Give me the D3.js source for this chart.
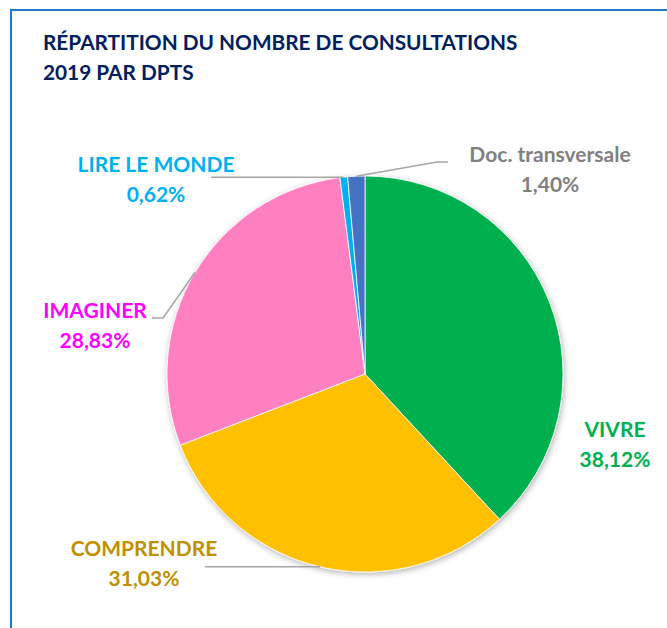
<!DOCTYPE html>
<html>
<head>
<meta charset="utf-8">
<script src="https://cdn.jsdelivr.net/npm/d3@7"></script>
<style>
  body { margin: 0; background: #fff; }
  svg { display: block; font-family: Lato, "Open Sans", sans-serif; font-weight: bold; }
</style>
</head>
<body>
<div id="chart"></div>
<script>
// data, clockwise from 12 o'clock
var categories = ["VIVRE", "COMPRENDRE", "IMAGINER", "LIRE LE MONDE", "Doc. transversale"];
var values = [38.12, 31.03, 28.83, 0.62, 1.40];
var sliceColors = ["#00B050", "#FFC000", "#FF80C0", "#00B0F0", "#4472C4"];
var labelColors = ["#00B050", "#BF9000", "#FF00FF", "#00B0F0", "#808080"];

// label placement (manual, like in the original)
var labelPos = [
  {x: 615, y: 437, line: null},
  {x: 144, y: 556, line: [205]},
  {x: 95, y: 318, line: [152, 163]},
  {x: 156, y: 172, line: [211]},
  {x: 550, y: 162, line: [448, 437]}
];

var W = 667, H = 628,
    cx = 365, cy = 374, r = 198;

var svg = d3.select("#chart").append("svg")
    .attr("width", W)
    .attr("height", H);

var defs = svg.append("defs");
var f = defs.append("filter").attr("id", "shadow")
    .attr("x", "-10%").attr("y", "-10%").attr("width", "120%").attr("height", "120%");
f.append("feDropShadow")
    .attr("dx", 1).attr("dy", 2).attr("stdDeviation", 3)
    .attr("flood-color", "#000").attr("flood-opacity", 0.3);

// frame
svg.append("path")
    .attr("d", "M11,628 L11,10 L667,10")
    .attr("fill", "none")
    .attr("stroke", "#1F77C8")
    .attr("stroke-width", 2);

// title
var title = svg.append("text")
    .attr("fill", "#002060")
    .style("font-size", "20.8px");
title.append("tspan").attr("x", 43).attr("y", 50).text("RÉPARTITION DU NOMBRE DE CONSULTATIONS");
title.append("tspan").attr("x", 43).attr("y", 80).text("2019 PAR DPTS");

var data = categories.map(function(c, i) { return {name: c, value: values[i], i: i}; });

var pie = d3.pie().sort(null).value(function(d) { return d.value; });
var arc = d3.arc().innerRadius(0).outerRadius(r);
var outer = d3.arc().innerRadius(r).outerRadius(r);

var g = svg.append("g").attr("transform", "translate(" + cx + "," + cy + ")");
var arcs = pie(data);

g.append("g").attr("filter", "url(#shadow)")
  .selectAll("path")
    .data(arcs)
  .enter().append("path")
    .attr("d", arc)
    .attr("fill", function(d) { return sliceColors[d.data.i]; })
    .attr("stroke", "#fff")
    .attr("stroke-width", 0.8);

// leader lines
arcs.forEach(function(d) {
  var p = labelPos[d.data.i];
  if (!p.line) return;
  var c = outer.centroid(d);
  var pts = [[c[0] + cx, c[1] + cy]];
  if (p.line.length === 2) {
    pts.push([p.line[1], p.y]);
    pts.push([p.line[0], p.y]);
  } else {
    pts.push([p.line[0], pts[0][1]]);
  }
  svg.append("path")
    .attr("d", d3.line()(pts))
    .attr("fill", "none")
    .attr("stroke", "#A6A6A6")
    .attr("stroke-width", 1.5);
});

// labels
var fmt = function(v) { return v.toFixed(2).replace(".", ",") + "%"; };
data.forEach(function(d) {
  var p = labelPos[d.i];
  var t = svg.append("text")
    .attr("text-anchor", "middle")
    .attr("fill", labelColors[d.i])
    .style("font-size", "21px");
  t.append("tspan").attr("x", p.x).attr("y", p.y).text(d.name);
  t.append("tspan").attr("x", p.x).attr("y", p.y + 30).text(fmt(d.value));
});
</script>
</body>
</html>
